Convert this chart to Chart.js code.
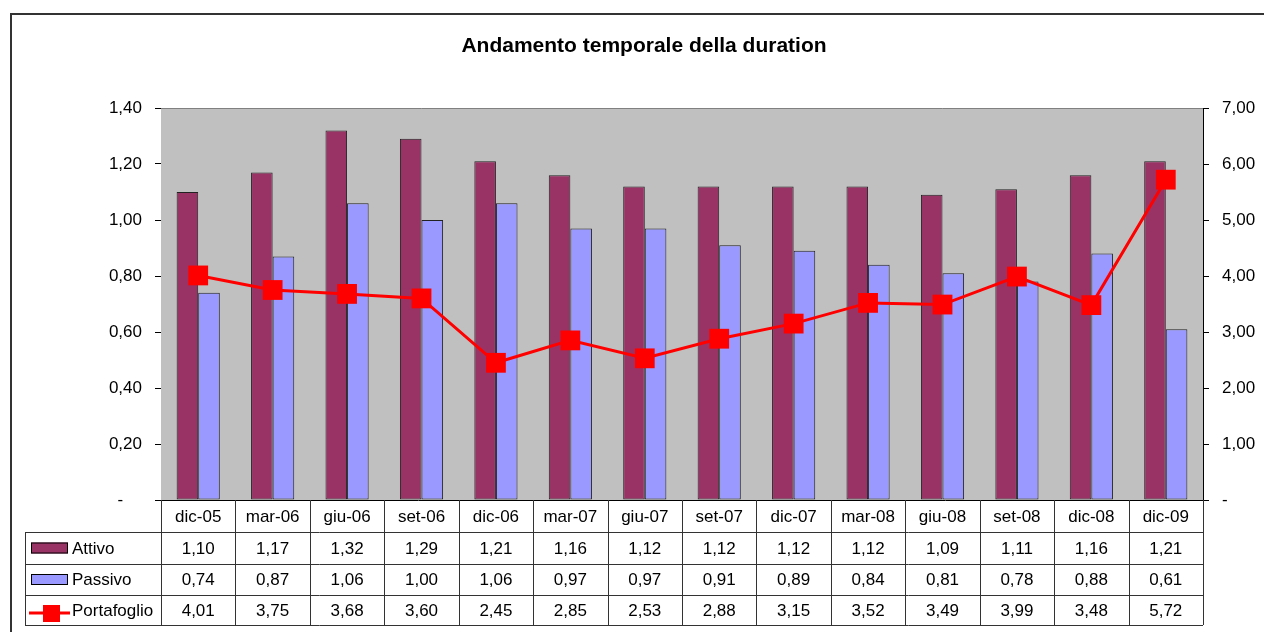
<!DOCTYPE html>
<html>
<head>
<meta charset="utf-8">
<script src="https://cdn.jsdelivr.net/npm/chart.js@4"></script>
<style>
  html, body { margin: 0; padding: 0; background: #fff; }
  #wrap { width: 1264px; height: 632px; position: relative; }
</style>
</head>
<body>
<div id="wrap"><canvas id="durationChart" width="1264" height="632"></canvas></div>
<script>
const periodi = ['dic-05', 'mar-06', 'giu-06', 'set-06', 'dic-06', 'mar-07', 'giu-07', 'set-07', 'dic-07', 'mar-08', 'giu-08', 'set-08', 'dic-08', 'dic-09'];
const attivo = [1.10, 1.17, 1.32, 1.29, 1.21, 1.16, 1.12, 1.12, 1.12, 1.12, 1.09, 1.11, 1.16, 1.21];
const passivo = [0.74, 0.87, 1.06, 1.00, 1.06, 0.97, 0.97, 0.91, 0.89, 0.84, 0.81, 0.78, 0.88, 0.61];
const portafoglio = [4.01, 3.75, 3.68, 3.60, 2.45, 2.85, 2.53, 2.88, 3.15, 3.52, 3.49, 3.99, 3.48, 5.72];

const FONT = '"Liberation Sans", Arial, sans-serif';
const fmt = v => v.toFixed(2).replace('.', ',');

// gray plot area, outer frame, title and data table below the chart
const excelLook = {
    id: 'excelLook',
    beforeDatasetsDraw(chart) {
        const { ctx, chartArea: a } = chart;
        ctx.save();
        ctx.fillStyle = '#C0C0C0';
        ctx.fillRect(a.left, a.top, a.right - a.left, a.bottom - a.top);
        ctx.strokeStyle = '#808080';
        ctx.lineWidth = 1;
        ctx.beginPath();
        ctx.moveTo(a.left, a.top + 0.5);
        ctx.lineTo(a.right, a.top + 0.5);
        ctx.stroke();
        ctx.restore();
    },
    afterDraw(chart) {
        const { ctx, chartArea: a } = chart;
        const x = chart.scales.x;
        ctx.save();

        // outer frame
        ctx.strokeStyle = '#333';
        ctx.lineWidth = 2;
        ctx.strokeRect(11, 14, 1300, 700);

        // title
        ctx.fillStyle = '#000';
        ctx.font = 'bold 21px ' + FONT;
        ctx.textAlign = 'center';
        ctx.textBaseline = 'middle';
        ctx.fillText('Andamento temporale della duration', 644, 46);

        // axis line at zero
        ctx.strokeStyle = '#000';
        ctx.lineWidth = 1;
        ctx.beginPath();
        ctx.moveTo(a.left - 6, a.bottom + 0.5);
        ctx.lineTo(a.right + 6, a.bottom + 0.5);
        ctx.stroke();

        // table grid
        const rows = [a.bottom, 532, 564, 595, 625];
        const tLeft = 25;
        const colW = (a.right - a.left) / periodi.length;
        ctx.strokeStyle = '#333';
        ctx.beginPath();
        for (let i = 1; i < rows.length; i++) {
            ctx.moveTo(tLeft, rows[i] + 0.5);
            ctx.lineTo(a.right, rows[i] + 0.5);
        }
        ctx.moveTo(tLeft + 0.5, rows[1]);
        ctx.lineTo(tLeft + 0.5, rows[4]);
        for (let i = 0; i <= periodi.length; i++) {
            const vx = Math.round(a.left + i * colW) + 0.5;
            ctx.moveTo(vx, rows[0]);
            ctx.lineTo(vx, rows[4]);
        }
        ctx.stroke();

        // table text
        ctx.font = '17px ' + FONT;
        ctx.fillStyle = '#000';
        ctx.textAlign = 'center';
        const series = [attivo, passivo, portafoglio];
        periodi.forEach((p, i) => {
            const cx = x.getPixelForValue(i);
            ctx.fillText(p, cx, (rows[0] + rows[1]) / 2 + 1);
            series.forEach((s, r) => {
                ctx.fillText(fmt(s[i]), cx, (rows[r + 1] + rows[r + 2]) / 2 + 1);
            });
        });

        // legend keys
        ctx.textAlign = 'left';
        const names = ['Attivo', 'Passivo', 'Portafoglio'];
        names.forEach((n, r) => {
            const cy = (rows[r + 1] + rows[r + 2]) / 2;
            if (r < 2) {
                ctx.fillStyle = r === 0 ? '#993366' : '#9999FF';
                ctx.fillRect(31, cy - 5.5, 37, 11);
                ctx.strokeStyle = '#000';
                ctx.strokeRect(31.5, cy - 5, 36, 10);
            } else {
                ctx.strokeStyle = '#FF0000';
                ctx.lineWidth = 3;
                ctx.beginPath();
                ctx.moveTo(29, cy + 3);
                ctx.lineTo(70, cy + 3);
                ctx.stroke();
                ctx.fillStyle = '#FF0000';
                ctx.fillRect(43, cy - 5, 17, 17);
                ctx.lineWidth = 1;
            }
            ctx.fillStyle = '#000';
            ctx.fillText(n, 72, cy + 1);
        });
        ctx.restore();
    }
};

const ctx = document.getElementById('durationChart').getContext('2d');
const chart = new Chart(ctx, {
    data: {
        labels: periodi,
        datasets: [{
            type: 'line',
            label: 'Portafoglio',
            data: portafoglio,
            yAxisID: 'y1',
            borderColor: '#FF0000',
            borderWidth: 3,
            pointStyle: 'rect',
            pointRadius: 14,
            pointBackgroundColor: '#FF0000',
            pointBorderColor: '#FF0000',
            pointBorderWidth: 0,
            tension: 0,
            order: 0
        }, {
            type: 'bar',
            label: 'Attivo',
            data: attivo,
            yAxisID: 'y',
            backgroundColor: '#993366',
            borderColor: '#222',
            borderWidth: 1,
            borderSkipped: false,
            barPercentage: 1,
            categoryPercentage: 0.58,
            order: 1
        }, {
            type: 'bar',
            label: 'Passivo',
            data: passivo,
            yAxisID: 'y',
            backgroundColor: '#9999FF',
            borderColor: '#222',
            borderWidth: 1,
            borderSkipped: false,
            barPercentage: 1,
            categoryPercentage: 0.58,
            order: 1
        }]
    },
    options: {
        responsive: false,
        animation: false,
        layout: { padding: { top: 108, bottom: 132, left: 0, right: 0 } },
        plugins: {
            legend: { display: false },
            title: { display: false },
            tooltip: { enabled: false }
        },
        scales: {
            x: { display: false, offset: true },
            y: {
                position: 'left',
                min: 0, max: 1.4,
                afterFit(s) { s.width = 161; },
                border: { color: '#000', width: 1 },
                grid: { drawOnChartArea: false, tickLength: 6, color: '#000' },
                ticks: {
                    stepSize: 0.2,
                    padding: 13,
                    color: '#000',
                    font: { family: FONT, size: 17 },
                    callback: v => (v === 0 ? '-    ' : fmt(v))
                }
            },
            y1: {
                position: 'right',
                min: 0, max: 7,
                afterFit(s) { s.width = 61; },
                border: { color: '#000', width: 1 },
                grid: { drawOnChartArea: false, tickLength: 6, color: '#000' },
                ticks: {
                    stepSize: 1,
                    padding: 13,
                    color: '#000',
                    font: { family: FONT, size: 17 },
                    callback: v => (v === 0 ? '-' : fmt(v))
                }
            }
        }
    },
    plugins: [excelLook]
});
</script>
</body>
</html>
